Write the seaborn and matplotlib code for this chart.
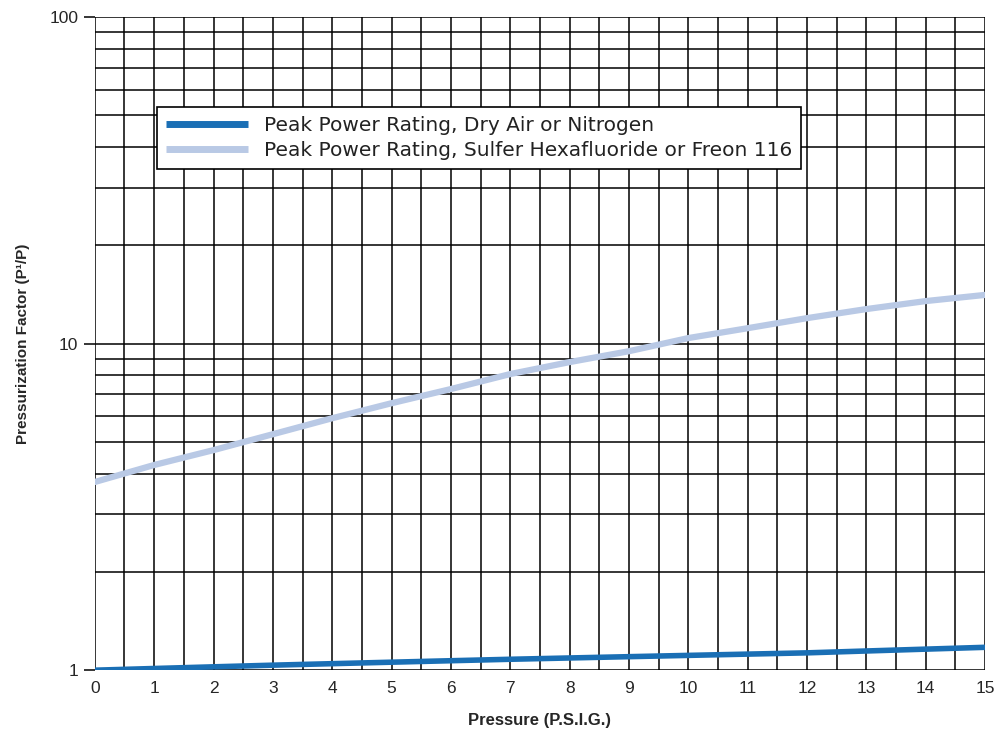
import numpy as np
import pandas as pd
import matplotlib
matplotlib.use("Agg")
import matplotlib.pyplot as plt
import seaborn as sns
from matplotlib.ticker import LogLocator, NullFormatter, FixedLocator

# values
pressure = [0, 1, 2, 3, 4, 5, 6, 7, 8, 9, 10, 11, 12, 13, 14, 15]
air_factor = [1.0, 1.012, 1.024, 1.036, 1.047, 1.058, 1.069, 1.08,
              1.09, 1.10, 1.11, 1.12, 1.13, 1.145, 1.16, 1.175]
sf6_factor = [3.77, 4.25, 4.72, 5.28, 5.91, 6.57, 7.26, 8.07,
              8.78, 9.48, 10.4, 11.15, 11.97, 12.76, 13.5, 14.1]
series_names = ["Peak Power Rating, Dry Air or Nitrogen",
                "Peak Power Rating, Sulfer Hexafluoride or Freon 116"]

df = pd.DataFrame({
    "Pressure": pressure * 2,
    "Factor": air_factor + sf6_factor,
    "Series": [series_names[0]] * len(pressure) + [series_names[1]] * len(pressure),
})

sns.set_style("white")
plt.rcParams["font.family"] = ["Liberation Sans", "DejaVu Sans"]

fig = plt.figure(figsize=(9.98, 7.43), dpi=100)
ax = fig.add_axes([0.095, 0.098, 0.892, 0.879])

ax.set_yscale("log")
ax.set_xlim(0, 15)
ax.set_ylim(1, 100)

# grid paper look
ax.xaxis.set_minor_locator(FixedLocator(np.arange(0, 15.01, 0.5)))
ax.yaxis.set_minor_locator(LogLocator(base=10, subs=np.arange(2, 10)))
ax.yaxis.set_minor_formatter(NullFormatter())
ax.grid(which="both", color="black", linewidth=1.1)
ax.set_axisbelow(True)

sns.lineplot(data=df, x="Pressure", y="Factor", hue="Series",
             palette=["#1a6fb5", "#b9c9e5"], linewidth=4, ax=ax)
ax.lines[1].set_linewidth(4.5)

ax.set_xticks(range(0, 16))
ax.set_yticks([1, 10, 100])
ax.set_yticklabels(["1", "10", "100"])
ax.tick_params(axis="x", which="major", labelsize=12.5, length=0, pad=8)
ax.tick_params(axis="y", which="major", labelsize=12.5, length=8, width=1.1,
               color="black", left=True, pad=4)
ax.tick_params(axis="both", which="minor", length=0)

for side in ["top", "right", "bottom", "left"]:
    ax.spines[side].set_visible(False)

ax.set_xlabel("Pressure (P.S.I.G.)", fontsize=12, fontweight="bold", labelpad=12)
ax.set_ylabel("Pressurization Factor (P\u00b9/P)", fontsize=11, fontweight="bold", labelpad=14)

leg = ax.legend(loc="upper left", bbox_to_anchor=(0.0697, 0.862), borderaxespad=0,
                prop={"family": "DejaVu Sans", "size": 14.5},
                frameon=True, fancybox=False, edgecolor="black",
                handlelength=4.1, handletextpad=0.75, borderpad=0.45,
                labelspacing=0.3)
leg.get_frame().set_linewidth(1.2)
leg.get_frame().set_alpha(1)
for handle in leg.get_lines():
    handle.set_solid_capstyle("butt")
    handle.set_linewidth(5)
for text in leg.get_texts():
    text.set_color("#222222")

fig.savefig("out.png", dpi=100)
